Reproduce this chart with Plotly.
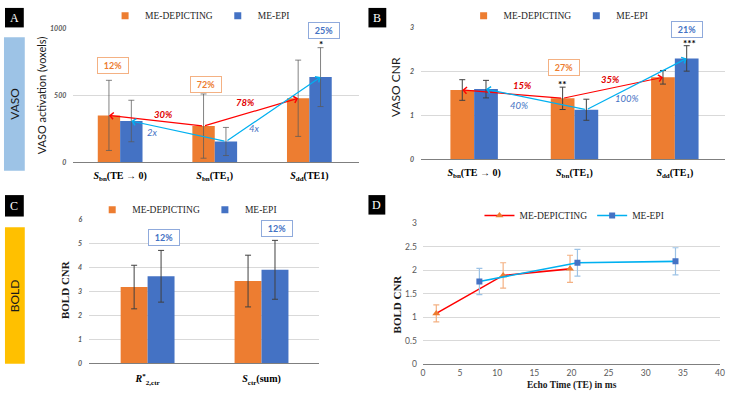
import plotly.graph_objects as go

W, H = 731, 397
ORANGE = '#ED7D31'; BLUE = '#4472C4'; RED = '#FF0000'; CYAN = '#00B0F0'
GRID = '#D9D9D9'; AXIS = '#7F7F7F'
SERIF = 'Liberation Serif'; SANS = 'Lato'

# ---------------- data ----------------
series_names = ['ME-DEPICTING', 'ME-EPI']

a_labels = ['<b><i>S</i><sub>bn</sub>(TE → 0)</b>', '<b><i>S</i><sub>bn</sub>(TE<sub>1</sub>)</b>',
            '<b><i>S</i><sub>dd</sub>(TE1)</b>']
a_depicting = [350, 270, 478]
a_depicting_err = [262, 240, 285]
a_epi = [308, 155, 636]
a_epi_err = [155, 105, 220]
a_ticks = [0, 500, 1000]

b_labels = ['<b><i>S</i><sub>bn</sub>(TE → 0)</b>', '<b><i>S</i><sub>bn</sub>(TE<sub>1</sub>)</b>',
            '<b><i>S</i><sub>dd</sub>(TE<sub>1</sub>)</b>']
b_depicting = [1.58, 1.39, 1.87]
b_depicting_err = [0.235, 0.255, 0.155]
b_epi = [1.60, 1.13, 2.30]
b_epi_err = [0.20, 0.24, 0.29]
b_ticks = [0, 1, 2, 3]

c_labels = ['<b><i>R</i><sup>*</sup><sub>2,ctr</sub></b>', '<b><i>S</i><sub>ctr</sub>(sum)</b>']
c_depicting = [3.19, 3.44]
c_depicting_err = [0.91, 1.08]
c_epi = [3.64, 3.91]
c_epi_err = [1.08, 1.23]
c_ticks = [0, 1, 2, 3, 4, 5, 6]

d_te_depicting = [1.8, 10.8, 19.8]
d_cnr_depicting = [1.08, 1.89, 2.03]
d_err_depicting = [0.18, 0.27, 0.29]
d_te_epi = [7.6, 20.8, 34.0]
d_cnr_epi = [1.76, 2.16, 2.19]
d_err_epi = [0.28, 0.285, 0.29]

BARGAP = 0.527
OFF = (1 - BARGAP) / 4  # centre offset of each bar in a pair


def px(x):
    return x / W


def py(y):
    return 1 - y / H


fig = go.Figure()


def add_bars(xa, ya, dep, dep_err, epi, epi_err, legend, errcol):
    idx = list(range(len(dep)))
    for name, vals, errs, col in ((series_names[0], dep, dep_err, ORANGE), (series_names[1], epi, epi_err, BLUE)):
        fig.add_trace(go.Bar(x=idx, y=vals, name=name, marker_color=col, showlegend=False,
                             marker_line_width=0, xaxis=xa, yaxis=ya,
                             error_y=dict(type='data', array=errs, color=errcol, thickness=1, width=3)))
    # legend entries (small square swatches as in the reference)
    for name, col in ((series_names[0], ORANGE), (series_names[1], BLUE)):
        fig.add_trace(go.Scatter(x=[None], y=[None], mode='markers', name=name, legend=legend,
                                 marker=dict(symbol='square', size=7, color=col), xaxis=xa, yaxis=ya))


add_bars('x', 'y', a_depicting, a_depicting_err, a_epi, a_epi_err, 'legend', 'rgba(90,90,90,0.75)')
add_bars('x2', 'y2', b_depicting, b_depicting_err, b_epi, b_epi_err, 'legend2', '#404040')
add_bars('x3', 'y3', c_depicting, c_depicting_err, c_epi, c_epi_err, 'legend3', '#404040')

fig.add_trace(go.Scatter(x=d_te_depicting, y=d_cnr_depicting, name=series_names[0], mode='lines+markers',
                         line=dict(color=RED, width=1.6),
                         marker=dict(symbol='triangle-up', size=7, color=ORANGE),
                         error_y=dict(type='data', array=d_err_depicting, color='#F4B183', thickness=1.2, width=3),
                         xaxis='x4', yaxis='y4', legend='legend4'))
fig.add_trace(go.Scatter(x=d_te_epi, y=d_cnr_epi, name=series_names[1], mode='lines+markers',
                         line=dict(color=CYAN, width=1.6),
                         marker=dict(symbol='square', size=6, color=BLUE),
                         error_y=dict(type='data', array=d_err_epi, color='#9DC3E6', thickness=1.2, width=3),
                         xaxis='x4', yaxis='y4', legend='legend4'))

ytick_small = dict(size=7, color='#595959', family=SANS, style='italic', weight='bold')
xcat_font = dict(size=10, color='#000000', family=SERIF)

common_x = dict(showgrid=False, showline=True, linecolor=AXIS, linewidth=1, ticks='', zeroline=False,
                fixedrange=True)
common_y = dict(showgrid=True, gridcolor=GRID, gridwidth=1, zeroline=False, showline=False, ticks='',
                tickfont=ytick_small, ticklabelstandoff=6)

fig.update_layout(
    width=W, height=H, margin=dict(l=0, r=0, t=0, b=0),
    paper_bgcolor='white', plot_bgcolor='white',
    barmode='group', bargap=BARGAP, bargroupgap=0,
    xaxis=dict(domain=[px(72), px(360)], anchor='y', range=[-0.495, 2.52], tickvals=[0, 1, 2],
               ticktext=a_labels, tickfont=xcat_font, ticklabelstandoff=4, **common_x),
    yaxis=dict(domain=[py(161.3), py(24)], anchor='x', range=[0, 1000], tickvals=a_ticks, **common_y),
    xaxis2=dict(domain=[px(423), px(730)], anchor='y2', range=[-0.53, 2.5], tickvals=[0, 1, 2],
                ticktext=b_labels, tickfont=xcat_font, ticklabelstandoff=4, **common_x),
    yaxis2=dict(domain=[py(158.3), py(23.3)], anchor='x2', range=[0, 3], tickvals=b_ticks, **common_y),
    xaxis3=dict(domain=[px(88), px(320)], anchor='y3', range=[-0.513, 1.504], tickvals=[0, 1],
                ticktext=c_labels, tickfont=xcat_font, ticklabelstandoff=6, **common_x),
    yaxis3=dict(domain=[py(367.7), py(220.3)], anchor='x3', range=[0, 6], tickvals=c_ticks, **common_y),
    xaxis4=dict(domain=[px(425), px(725)], anchor='y4', range=[0, 40], dtick=5,
                tickfont=dict(size=8.5, color='#595959', family=SANS), ticklabelstandoff=1, **common_x),
    yaxis4=dict(domain=[py(368.3), py(224)], anchor='x4', range=[0, 3], dtick=0.5,
                showgrid=True, gridcolor=GRID, zeroline=False, showline=False, ticks='',
                tickfont=dict(size=8.5, color='#595959', family=SANS), ticklabelstandoff=5),
)

leg_common = dict(orientation='h', xanchor='center', yanchor='middle', bgcolor='rgba(0,0,0,0)',
                  font=dict(family=SERIF, size=9.5, color='#262626'), itemwidth=30,
                  tracegroupgap=0, itemclick=False)
fig.update_layout(
    legend=dict(x=px(200), y=py(11), **leg_common),
    legend2=dict(x=px(562), y=py(11), **leg_common),
    legend3=dict(x=px(187), y=py(210), **leg_common),
    legend4=dict(x=px(578), y=py(216), **leg_common),
)

shapes = []
anns = []


def text(t, x, y, font, angle=0, **kw):
    d = dict(text=t, x=px(x), y=py(y), xref='paper', yref='paper', showarrow=False, textangle=angle,
             xanchor='center', yanchor='middle', font=font)
    d.update(kw)
    anns.append(d)


# side category boxes
shapes.append(dict(type='rect', xref='paper', yref='paper', x0=px(2), x1=px(23), y0=py(170), y1=py(33),
                   fillcolor='#9DC3E6', line_width=0, layer='below'))
shapes.append(dict(type='rect', xref='paper', yref='paper', x0=px(3), x1=px(23), y0=py(368), y1=py(228),
                   fillcolor='#FFC000', line_width=0, layer='below'))
text('VASO', 12.5, 101, dict(family=SANS, size=12, color='#1a1a1a'), -90)
text('BOLD', 13, 298, dict(family=SANS, size=12, color='#1a1a1a'), -90)

# panel letters
for letter, (x0, y0, x1, y1) in zip('ABCD', [(3, 3, 22, 23), (370, 3, 388, 23), (3, 195, 22, 217),
                                             (370, 195, 387, 215)]):
    shapes.append(dict(type='rect', xref='paper', yref='paper', x0=px(x0), x1=px(x1), y0=py(y1), y1=py(y0),
                       fillcolor='#000000', line_width=0))
    text(letter, (x0 + x1) / 2, (y0 + y1) / 2, dict(family=SERIF, size=12, color='white'))

# axis titles
text('VASO activation (voxels)', 40, 93, dict(family=SANS, size=11, color='#1a1a1a'), -90)
text('VASO CNR', 398, 84, dict(family=SANS, size=12, color='#1a1a1a'), -90)
text('<b>BOLD CNR</b>', 63, 292, dict(family=SERIF, size=11, color='#1a1a1a'), -90)
text('<b>BOLD CNR</b>', 399, 307, dict(family=SERIF, size=11, color='#1a1a1a'), -90)
text('<b>Echo Time (TE) in ms</b>', 576, 390.5, dict(family=SERIF, size=9.5, color='#1a1a1a'))


# boxed percentages
def box(t, x, y, col, border):
    text('<b>%s</b>' % t, x, y, dict(family=SANS, size=9, color=col), bordercolor=border, borderwidth=1,
         bgcolor='white', width=26, height=11, borderpad=2)


box('12%', 112, 62, ORANGE, '#F4B183')
box('72%', 206, 82, ORANGE, '#F4B183')
box('25%', 325, 26, BLUE, '#8FAADC')
box('27%', 567, 64, ORANGE, '#F4B183')
box('21%', 692, 25, BLUE, '#8FAADC')
box('12%', 163.5, 239, BLUE, '#8FAADC')
box('12%', 278, 229, BLUE, '#8FAADC')

# significance stars
for s, x, y in (('*', 322, 40), ('**', 566, 81), ('***', 694, 39)):
    text('<b>%s</b>' % s, x, y, dict(family=SANS, size=10, color='#000000'))


# italic arrow labels
def lab(t, x, y, col, bold=True):
    t = '<i>%s</i>' % t
    if bold:
        t = '<b>%s</b>' % t
    text(t, x, y, dict(family=SANS, size=9.5, color=col))


lab('30%', 163, 112, '#E00000')
lab('78%', 246, 100, '#E00000')
lab('2x', 152, 131, BLUE, bold=False)
lab('4x', 255, 127, BLUE, bold=False)
lab('15%', 526, 83, '#E00000')
lab('35%', 614, 76, '#E00000')
lab('40%', 522, 103, BLUE, bold=False)
lab('100%', 631, 96, BLUE, bold=False)


# arrows between bar tops (data coordinates)
def arrows(xr, yr, vals, sign, col):
    tail = (1 + sign * OFF, vals[1])
    for i in (0, 2):
        anns.append(dict(text='', x=i + sign * OFF, y=vals[i], ax=tail[0], ay=tail[1],
                         xref=xr, yref=yr, axref=xr, ayref=yr, showarrow=True,
                         arrowhead=4, arrowsize=1.1, arrowwidth=1.2, arrowcolor=col,
                         standoff=0, startstandoff=0))


arrows('x', 'y', a_depicting, -1, RED)
arrows('x', 'y', a_epi, +1, CYAN)
arrows('x2', 'y2', b_depicting, -1, RED)
arrows('x2', 'y2', b_epi, +1, CYAN)

fig.update_layout(shapes=shapes, annotations=anns)
fig.write_html('out.html')
